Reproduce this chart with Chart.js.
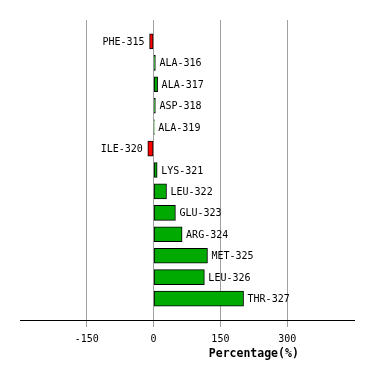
<!DOCTYPE html>
<html>
<head>
<meta charset="utf-8">
<script src="https://cdn.jsdelivr.net/npm/chart.js@4"></script>
<style>
  body { margin: 0; background: #fff; }
  canvas { display: block; }
</style>
</head>
<body>
<canvas id="myChart" width="374" height="380"></canvas>
<script>
// residues and percentage values
var residues = ["PHE-315", "ALA-316", "ALA-317", "ASP-318", "ALA-319", "ILE-320", "LYS-321",
                "LEU-322", "GLU-323", "ARG-324", "MET-325", "LEU-326", "THR-327"];
var percents = [-9, 4, 9, 4, 1.5, -13, 8, 29, 49, 64, 121, 114, 202];
var tickVals = [-150, 0, 150, 300];
var axisTitle = "Percentage(%)";

// one empty slot above and below, like the original
var labels = [""].concat(residues, [""]);
var values = [null].concat(percents, [null]);

var barLabels = {
  id: "barLabels",
  afterDatasetsDraw: function(chart) {
    var ctx = chart.ctx;
    var meta = chart.getDatasetMeta(0);
    ctx.save();
    ctx.font = "10px 'DejaVu Sans Mono'";
    ctx.fillStyle = "#000";
    ctx.textBaseline = "middle";
    meta.data.forEach(function(bar, i) {
      var v = values[i];
      if (v === null) return;
      if (v < 0) {
        ctx.textAlign = "right";
        ctx.fillText(labels[i], bar.x - 5, bar.y + 1);
      } else {
        ctx.textAlign = "left";
        ctx.fillText(labels[i], bar.x + 4, bar.y + 1);
      }
    });
    // axis title
    var xs = chart.scales.x;
    ctx.font = "bold 11.5px 'DejaVu Sans Mono'";
    ctx.textAlign = "center";
    ctx.fillText(axisTitle, (xs.getPixelForValue(0) + xs.right) / 2, 354);
    ctx.restore();
  }
};

var ctx = document.getElementById("myChart").getContext("2d");
var myChart = new Chart(ctx, {
  type: "bar",
  data: {
    labels: labels,
    datasets: [{
      data: values,
      backgroundColor: values.map(function(v) { return v < 0 ? "#ff0000" : "#00aa00"; }),
      borderColor: "#000",
      borderWidth: 1,
      borderSkipped: false,
      barThickness: 15
    }]
  },
  options: {
    indexAxis: "y",
    responsive: false,
    animation: false,
    layout: { padding: { left: 20, right: 20, top: 20, bottom: 0 } },
    plugins: { legend: { display: false }, tooltip: { enabled: false } },
    scales: {
      y: {
        display: false,
        offset: false
      },
      x: {
        type: "linear",
        min: -300,
        max: 450,
        afterBuildTicks: function(scale) {
          scale.ticks = tickVals.map(function(v) { return { value: v }; });
        },
        afterFit: function(scale) { scale.height = 60; },
        grid: { color: "#a0a0a0", tickLength: 7 },
        border: { color: "#000", width: 1 },
        ticks: {
          color: "#000",
          padding: 6,
          maxRotation: 0,
          font: { family: "'DejaVu Sans Mono'", size: 10 }
        }
      }
    }
  },
  plugins: [barLabels]
});
</script>
</body>
</html>
